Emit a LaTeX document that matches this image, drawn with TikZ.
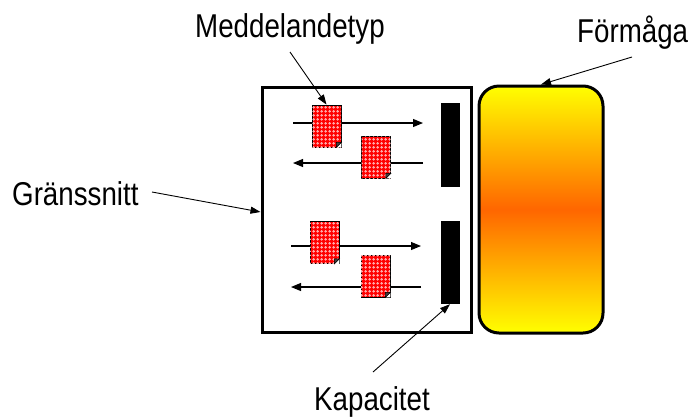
\documentclass[tikz,border=0pt]{standalone}
\usepackage{fontspec}
\setmainfont{Liberation Sans}[FakeStretch=0.84]
\usetikzlibrary{arrows.meta,patterns,calc}

% light crosses on the message cards
\pgfdeclarepatternformonly{msgcross}{\pgfpointorigin}{\pgfpoint{4pt}{4pt}}{\pgfpoint{4pt}{4pt}}{%
  \pgfpathrectangle{\pgfpoint{1.5pt}{0.4pt}}{\pgfpoint{1pt}{3.2pt}}%
  \pgfpathrectangle{\pgfpoint{0.4pt}{1.5pt}}{\pgfpoint{3.2pt}{1pt}}%
  \pgfusepath{fill}}

\tikzset{
  frame/.style={draw, line width=3pt, inner sep=0pt},
  capbox/.style={draw, line width=3pt, rounded corners=20pt, inner sep=0pt,
    top color=yellow, bottom color=yellow, middle color={rgb,255:red,255;green,102;blue,0}},
  bar/.style={fill=black, inner sep=0pt, minimum width=19, minimum height=84},
  card/.style={draw=black, line width=0.8pt, fill=red, inner sep=0pt,
    minimum width=29, minimum height=42,
    postaction={pattern=msgcross, pattern color={rgb,255:red,255;green,170;blue,170}}},
  flow/.style={line width=1.1pt, -{Triangle[length=10pt,width=8pt]}},
  pointer/.style={line width=0.9pt, -{Triangle[length=10pt,width=7pt]}},
  label/.style={font=\fontsize{33}{36}\selectfont, inner sep=0pt, anchor=base west}
}

% folded lower right corner of a message card
\newcommand\cardfold[1]{%
  \fill[white] ($(#1.south east)+(-5,0)$) -- (#1.south east) -- ($(#1.south east)+(0,-5)$) -- cycle;
  \filldraw[fill=black!75, draw=black, line width=0.6pt]
    ($(#1.south east)+(-5,0)$) -- ($(#1.south east)+(0,-5)$) -- ($(#1.south east)+(-5,-5)$) -- cycle;
}

\begin{document}
\begin{tikzpicture}[x=1pt, y=-1pt]
\useasboundingbox (0,0) rectangle (690,416);

% interface frame and capability block
\node[frame, minimum width=209, minimum height=245] (iface) at (366.5,209.5) {};
\node[capbox, minimum width=124, minimum height=247] (cap) at (541,209.5) {};

% capacity bars
\node[bar] (bar1) at (450.5,145) {};
\node[bar, minimum height=83] (bar2) at (450,262.5) {};

% message flows
\coordinate (r1a) at (293,123); \coordinate (r1b) at (423,123);
\coordinate (l1a) at (423,163); \coordinate (l1b) at (293,163);
\coordinate (r2a) at (291,246); \coordinate (r2b) at (421,246);
\coordinate (l2a) at (421,287); \coordinate (l2b) at (291,287);
\draw[flow] (r1a) -- (r1b);
\draw[flow] (l1a) -- (l1b);
\draw[flow] (r2a) -- (r2b);
\draw[flow] (l2a) -- (l2b);

% message cards
\node[card] (m1) at (326.5,126) {}; \cardfold{m1}
\node[card] (m2) at (376,157) {};   \cardfold{m2}
\node[card] (m3) at (324.5,242.5) {}; \cardfold{m3}
\node[card] (m4) at (375.5,276) {}; \cardfold{m4}

% labels
\node[label] (tMsg) at (195,37) {Meddelandetyp};
\node[label] (tCap) at (577,42) {Förmåga};
\node[label] (tIf)  at (12,205) {Gränssnitt};
\node[label] (tKap) at (314,410) {Kapacitet};

\coordinate (pMsg) at (290,52);
\coordinate (pCap) at (632,57);
\coordinate (pIf)  at (152,192);
\coordinate (pKap) at (373,372);
\draw[pointer] (pMsg) -- (m1.north);
\draw[pointer] (pCap) -- (cap.north);
\draw[pointer] (pIf) -- (iface.west |- 0,212);
\draw[pointer] (pKap) -- (bar2.south);
\end{tikzpicture}
\end{document}
